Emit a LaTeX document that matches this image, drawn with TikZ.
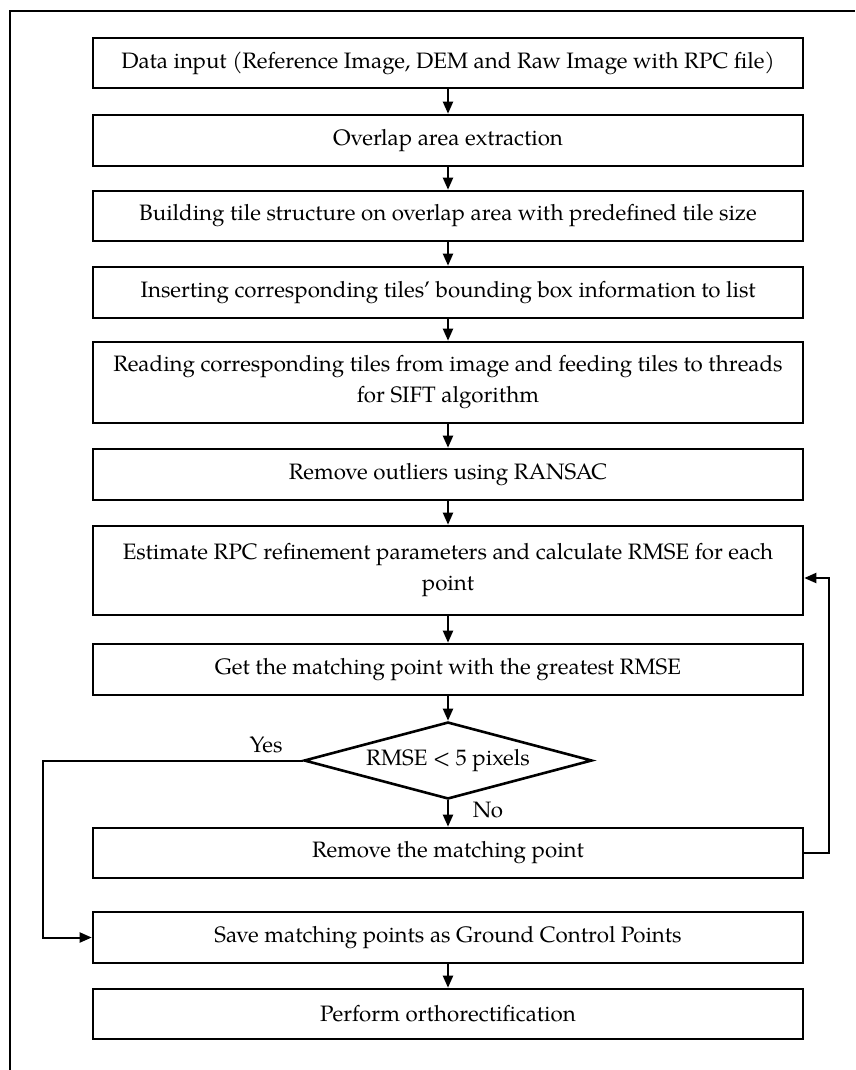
\documentclass[tikz,border=0pt]{standalone}
\usepackage{fontspec}
\setmainfont{TeX Gyre Pagella}
\usetikzlibrary{arrows.meta,shapes.geometric}
\begin{document}
\begin{tikzpicture}[x=1pt,y=-1pt,
  box/.style={draw, line width=2.6pt, minimum width=710pt, inner sep=0pt, align=center,
              font=\fontsize{22.3}{31}\selectfont},
  decision/.style={draw, diamond, line width=2.6pt, aspect=3.74, inner sep=0pt,
              minimum width=288pt, minimum height=77pt, font=\fontsize{22.3}{26}\selectfont},
  conn/.style={line width=2pt, -{Triangle[length=12pt,width=10pt]}},
  plain/.style={line width=2pt},
  lbl/.style={font=\fontsize{22.3}{26}\selectfont}]
\useasboundingbox (0,0) rectangle (855,1070);
% frame
\draw[plain] (10,1070) -- (10,11) -- (855,11);
% boxes
\node[box, minimum height=50pt] (b1) at (448,63) {Data input (Reference Image, DEM and Raw Image with RPC file)};
\node[box, minimum height=51pt] (b2) at (448,140.5) {Overlap area extraction};
\node[box, minimum height=50pt] (b3) at (448,216) {Building tile structure on overlap area with predefined tile size};
\node[box, minimum height=51pt] (b4) at (448,292.5) {Inserting corresponding tiles’ bounding box information to list};
\node[box, minimum height=81pt] (b5) at (448,382.5) {Reading corresponding tiles from image and feeding tiles to threads\\for SIFT algorithm};
\node[box, minimum height=51pt] (b6) at (448,474.5) {Remove outliers using RANSAC};
\node[box, minimum height=89pt] (b7) at (448,570.5) {Estimate RPC refinement parameters and calculate RMSE for each\\point};
\node[box, minimum height=51pt] (b8) at (448,669.5) {Get the matching point with the greatest RMSE};
\node[decision] (dia) at (448,760.5) {RMSE < 5 pixels};
\node[box, minimum height=50pt] (b9) at (448,853) {Remove the matching point};
\node[box, minimum height=51pt] (b10) at (448,937.5) {Save matching points as Ground Control Points};
\node[box, minimum height=50pt] (b11) at (448,1014) {Perform orthorectification};
% labels
\node[lbl] (yes) at (266,745) {Yes};
\node[lbl] (no) at (488,810) {No};
% main flow
\draw[conn] (b1) -- (b2);
\draw[conn] (b2) -- (b3);
\draw[conn] (b3) -- (b4);
\draw[conn] (b4) -- (b5);
\draw[conn] (b5) -- (b6);
\draw[conn] (b6) -- (b7);
\draw[conn] (b7) -- (b8);
\draw[conn] (b8) -- (dia);
\draw[conn] (dia) -- (b9);
\draw[conn] (b10) -- (b11);
% loops
\coordinate (lp) at (829,578);
\draw[conn] (b9.east) -| (lp) -- (lp -| b7.east);
\coordinate (yc) at (43,760.5);
\draw[conn] (dia.west) -- (yc) |- (b10.west);
\end{tikzpicture}
\end{document}
